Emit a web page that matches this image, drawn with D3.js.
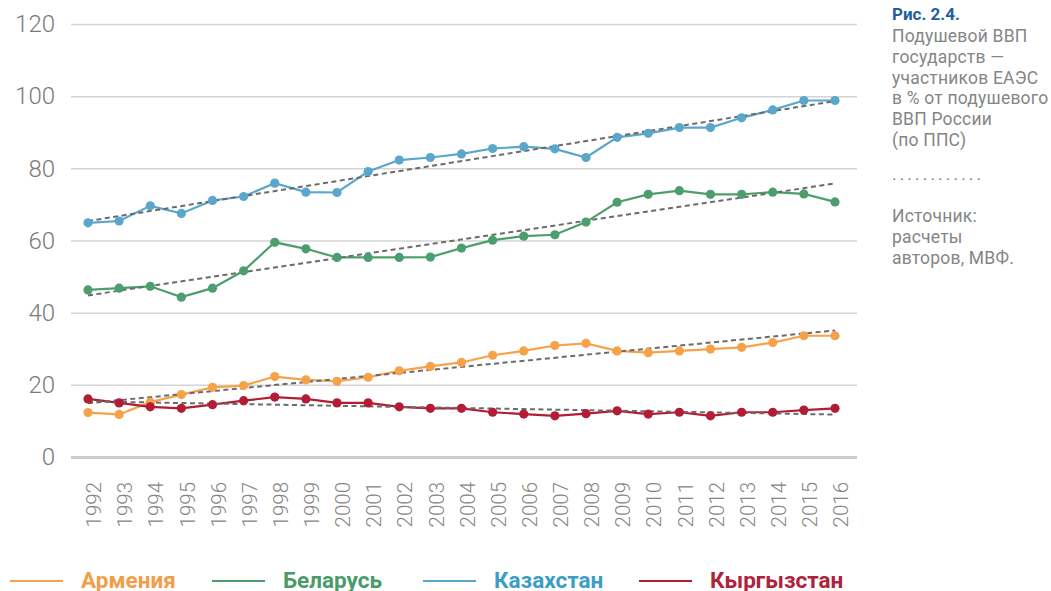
<!DOCTYPE html>
<html>
<head>
<meta charset="utf-8">
<script src="https://cdnjs.cloudflare.com/ajax/libs/d3/7.8.5/d3.min.js"></script>
<style>
  body { margin: 0; background: #fff; }
  svg { display: block; }
</style>
</head>
<body>
<svg id="chart" width="1051" height="591"></svg>
<script>
// годы и значения (% от подушевого ВВП России)
var years = d3.range(1992, 2017);

var armenia = [12.3, 11.8, 15.2, 17.3, 19.3, 19.8, 22.3, 21.4, 21.0, 22.1, 23.9, 25.1,
  26.2, 28.2, 29.4, 30.9, 31.5, 29.4, 28.9, 29.4, 29.9, 30.4, 31.7, 33.6, 33.6];
var belarus = [46.3, 46.8, 47.3, 44.3, 46.8, 51.6, 59.5, 57.7, 55.3, 55.3, 55.3, 55.4,
  57.9, 60.1, 61.2, 61.6, 65.1, 70.6, 72.8, 73.8, 72.8, 72.8, 73.4, 72.9, 70.7];
var kazakhstan = [64.9, 65.4, 69.6, 67.5, 71.1, 72.2, 75.9, 73.4, 73.3, 79.1, 82.3, 83.0,
  84.0, 85.5, 86.0, 85.4, 83.0, 88.6, 89.7, 91.3, 91.3, 94.0, 96.2, 98.8, 98.8];
var kyrgyzstan = [16.1, 15.0, 13.9, 13.5, 14.5, 15.6, 16.6, 16.1, 15.0, 15.0, 13.9, 13.5,
  13.5, 12.4, 11.9, 11.4, 12.0, 12.8, 11.9, 12.4, 11.4, 12.4, 12.4, 13.0, 13.5];

var yTicks = [0, 20, 40, 60, 80, 100, 120];

var seriesNames = ['Армения', 'Беларусь', 'Казахстан', 'Кыргызстан'];
var seriesColors = ['#f6a24a', '#4d9e6f', '#5aa7cb', '#b21d35'];
var legendColors = ['#f29d48', '#4a9a6a', '#3d9dc6', '#b0213a'];

var captionTitle = 'Рис. 2.4.';
var captionLines = ['Подушевой ВВП', 'государств —', 'участников ЕАЭС',
  'в % от подушевого', 'ВВП России', '(по ППС)'];
var sourceLines = ['Источник:', 'расчеты', 'авторов, МВФ.'];

var series = [armenia, belarus, kazakhstan, kyrgyzstan].map(function(v, i) {
  return {
    name: seriesNames[i],
    color: seriesColors[i],
    legend: legendColors[i],
    values: v.map(function(d, j) { return { year: years[j], value: d }; })
  };
});

var svg = d3.select('#chart');

var gridLeft = 71, gridRight = 857;

var x = d3.scalePoint()
  .domain(years)
  .range([88, 835]);

var y = d3.scaleLinear()
  .domain([0, 120])
  .range([457, 24]);

// сетка и подписи оси Y
var yAxis = svg.append('g')
  .attr('transform', 'translate(' + gridLeft + ',0)')
  .call(d3.axisLeft(y)
    .tickValues(yTicks)
    .tickSize(-(gridRight - gridLeft))
    .tickPadding(16));
yAxis.select('.domain').remove();
yAxis.selectAll('.tick line')
  .attr('stroke-width', function(d) { return d === 0 ? 3 : 1.5; })
  .attr('stroke', function(d) { return d === 0 ? '#cbcbcb' : '#d4d4d4'; });
yAxis.selectAll('.tick text')
  .attr('fill', '#7a7a7a')
  .style('font-family', 'Roboto, sans-serif')
  .style('font-weight', 300)
  .style('font-size', '24px');

// подписи оси X
var xAxis = svg.append('g')
  .attr('transform', 'translate(0,' + y(0) + ')')
  .call(d3.axisBottom(x).tickSize(0));
xAxis.select('.domain').remove();
xAxis.selectAll('.tick text')
  .attr('transform', 'rotate(-90)')
  .attr('text-anchor', 'end')
  .attr('x', -25)
  .attr('y', 5.5)
  .attr('dy', '0.35em')
  .attr('fill', '#858585')
  .style('font-family', 'Roboto, sans-serif')
  .style('font-weight', 300)
  .style('font-size', '20.5px');

var line = d3.line()
  .x(function(d) { return x(d.year); })
  .y(function(d) { return y(d.value); });

// линии рядов
svg.append('g').selectAll('path')
  .data(series)
  .enter().append('path')
  .attr('d', function(s) { return line(s.values); })
  .attr('fill', 'none')
  .attr('stroke', function(s) { return s.color; })
  .attr('stroke-width', 2.2);

// линейные тренды
var trend = function(values) {
  var n = values.length;
  var mx = d3.mean(values, function(d) { return d.year; });
  var my = d3.mean(values, function(d) { return d.value; });
  var num = d3.sum(values, function(d) { return (d.year - mx) * (d.value - my); });
  var den = d3.sum(values, function(d) { return (d.year - mx) * (d.year - mx); });
  var b = num / den;
  var first = values[0].year, last = values[n - 1].year;
  return [
    { year: first, value: my + b * (first - mx) },
    { year: last, value: my + b * (last - mx) }
  ];
};

svg.append('g').selectAll('path')
  .data(series)
  .enter().append('path')
  .attr('d', function(s) { return line(trend(s.values)); })
  .attr('fill', 'none')
  .attr('stroke', '#6b6b6b')
  .attr('stroke-width', 2)
  .attr('stroke-dasharray', '5,3.5');

// маркеры
svg.append('g').selectAll('g')
  .data(series)
  .enter().append('g')
  .attr('fill', function(s) { return s.color; })
  .selectAll('circle')
  .data(function(s) { return s.values; })
  .enter().append('circle')
  .attr('cx', function(d) { return x(d.year); })
  .attr('cy', function(d) { return y(d.value); })
  .attr('r', 4.6);

// легенда
var legendX = [10, 212, 423, 639];
var legend = svg.append('g').selectAll('g')
  .data(series)
  .enter().append('g')
  .attr('transform', function(s, i) { return 'translate(' + legendX[i] + ',581)'; });
legend.append('line')
  .attr('x1', 0).attr('x2', 53)
  .attr('stroke', function(s) { return s.color; })
  .attr('stroke-width', 2);
legend.append('text')
  .attr('x', 71)
  .attr('y', 6.5)
  .attr('fill', function(s) { return s.legend; })
  .style('font-family', 'Roboto, sans-serif')
  .style('font-weight', 700)
  .style('font-size', '22.5px')
  .text(function(s) { return s.name; });

// подпись справа
var cap = svg.append('g')
  .attr('transform', 'translate(892,0)')
  .style('font-family', 'Roboto, sans-serif');
cap.append('text')
  .attr('y', 20)
  .attr('fill', '#1f5f9e')
  .style('font-weight', 700)
  .style('font-size', '17px')
  .text(captionTitle);
cap.selectAll('text.cl')
  .data(captionLines)
  .enter().append('text')
  .attr('class', 'cl')
  .attr('y', function(d, i) { return 42 + i * 20.8; })
  .attr('fill', '#858585')
  .style('font-size', '17.5px')
  .style('letter-spacing', '0.2px')
  .text(function(d) { return d; });
cap.append('text')
  .attr('y', 180)
  .attr('fill', '#7a7a7a')
  .style('font-size', '17px')
  .style('letter-spacing', '3.2px')
  .text('............');
cap.selectAll('text.sl')
  .data(sourceLines)
  .enter().append('text')
  .attr('class', 'sl')
  .attr('y', function(d, i) { return 222 + i * 20.8; })
  .attr('fill', '#858585')
  .style('font-size', '17.5px')
  .style('letter-spacing', '0.2px')
  .text(function(d) { return d; });
</script>
</body>
</html>
